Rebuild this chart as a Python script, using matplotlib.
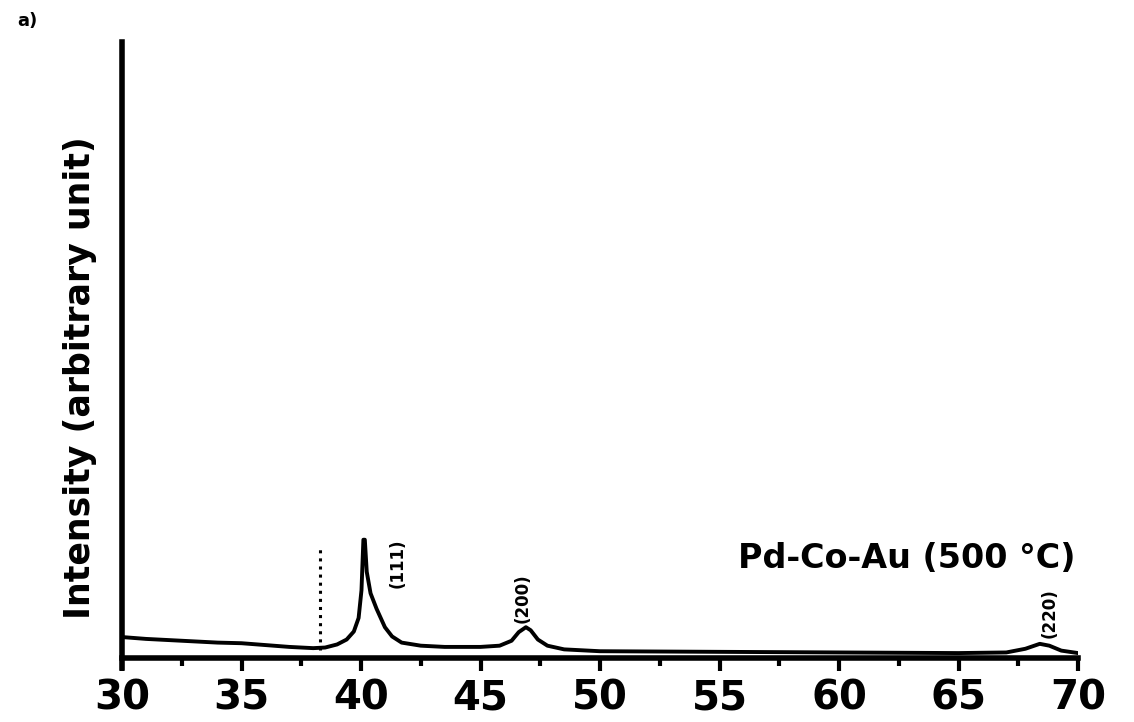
import numpy as np
import matplotlib.pyplot as plt

# XRD pattern (2-theta in degrees, intensity in arbitrary units)
two_theta = [30.0, 31.0, 32.0, 33.0, 34.0, 35.0, 36.0, 37.0, 38.0, 38.5, 39.0, 39.4,
             39.7, 39.9, 40.02, 40.1, 40.16, 40.24, 40.4, 40.65, 41.0, 41.3, 41.7,
             42.5, 43.5, 45.0, 45.8, 46.3, 46.6, 46.9, 47.1, 47.4, 47.8, 48.5, 50.0,
             55.0, 60.0, 65.0, 67.0, 67.8, 68.4, 68.8, 69.3, 70.0]
intensity = [3.4, 3.1, 2.9, 2.7, 2.5, 2.4, 2.1, 1.8, 1.6, 1.7, 2.2, 3.0,
             4.3, 6.5, 11.0, 19.2, 19.2, 14.0, 10.5, 8.0, 5.0, 3.5, 2.5,
             2.0, 1.8, 1.8, 2.0, 2.8, 4.2, 5.0, 4.5, 3.0, 2.0, 1.4, 1.1,
             1.0, 0.9, 0.8, 0.9, 1.5, 2.3, 2.0, 1.2, 0.8]

# reference line (dotted) and peak labels
ref_pos = 38.3
ref_top = 18.3
peak_labels = ['(111)', '(200)', '(220)']
peak_x = [41.55, 46.75, 68.8]
peak_y = [15.4, 9.7, 7.3]
sample_label = 'Pd-Co-Au (500 °C)'

fig = plt.figure(figsize=(11.34, 7.22), dpi=100)
ax = fig.add_axes([122 / 1134, 1 - 658 / 722, 956 / 1134, 616 / 722])

ax.plot(two_theta, intensity, color='black', linewidth=2.8, solid_joinstyle='round')
ax.vlines(ref_pos, 1.3, ref_top, colors='black', linestyles=':', linewidth=2.2)

for lab, px, py in zip(peak_labels, peak_x, peak_y):
    ax.text(px, py, lab, rotation=90, ha='center', va='center',
            fontsize=12, fontweight='bold')

ax.text(69.9, 16.2, sample_label, ha='right', va='center',
        fontsize=24, fontweight='heavy')

ax.set_xlim(30, 70)
ax.set_ylim(0, 100)
ax.set_xticks(np.arange(30, 71, 5))
ax.set_xticks(np.arange(32.5, 70, 5), minor=True)
ax.set_yticks([])
ax.tick_params(axis='x', which='major', direction='out', length=9, width=3,
               labelsize=29, pad=6)
ax.tick_params(axis='x', which='minor', direction='out', length=6, width=3)
for t in ax.get_xticklabels():
    t.set_fontweight('heavy')

for side in ['top', 'right']:
    ax.spines[side].set_visible(False)
ax.spines['left'].set_linewidth(4)
ax.spines['bottom'].set_linewidth(4)
ax.spines['left'].set_bounds(-1.6, 100)

fig.text(80 / 1134, 1 - 378 / 722, 'Intensity (arbitrary unit)', rotation=90,
         ha='center', va='center', fontsize=25, fontweight='bold')
fig.text(17 / 1134, 1 - 21 / 722, 'a)', ha='left', va='center',
         fontsize=13, fontweight='bold')

fig.savefig('out.png', dpi=100)
